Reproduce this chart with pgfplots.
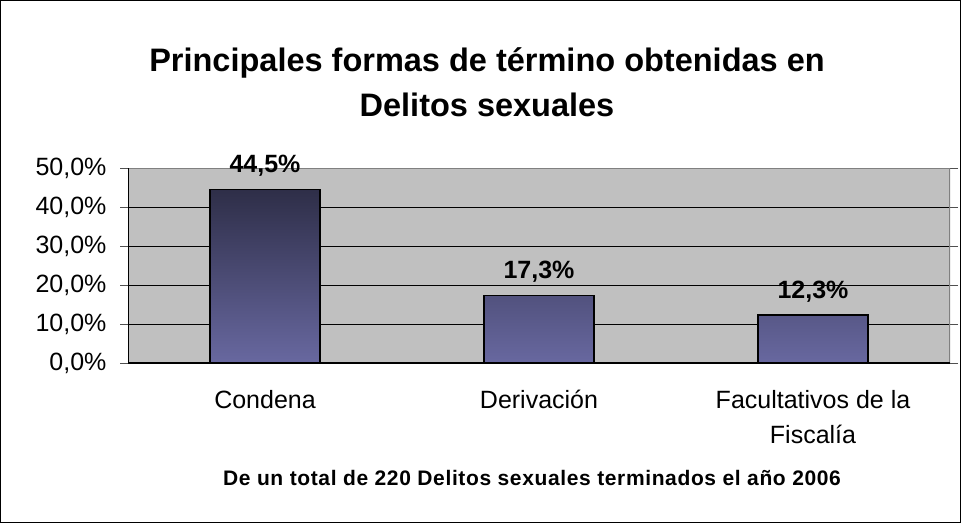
\documentclass[border=0pt]{standalone}
\usepackage{pgfplots}
\pgfplotsset{compat=1.18}
\usepackage{fontspec}
\setmainfont{Liberation Sans}
\definecolor{plotbg}{HTML}{C0C0C0}
\definecolor{bartop}{HTML}{2E2E48}
\definecolor{barbot}{HTML}{6868A0}
\definecolor{edgegray}{HTML}{808080}
\definecolor{tickgray}{HTML}{505050}
\begin{document}
\begin{tikzpicture}
\draw[line width=1.3pt, black] (0.65pt,-0.65pt) rectangle (960.35pt,-522.35pt);
\node[font=\bfseries\fontsize{32.5}{38}\selectfont] at (487pt,-63pt) {Principales formas de término obtenidas en};
\node[font=\bfseries\fontsize{32.5}{38}\selectfont] at (487pt,-105pt) {Delitos sexuales};
\node[font=\bfseries\fontsize{21}{25}\selectfont\addfontfeature{LetterSpace=3}] at (532pt,-478pt) {De un total de 220 Delitos sexuales terminados el año 2006};
\begin{axis}[
  at={(128pt,-363pt)}, anchor=south west,
  scale only axis, width=822pt, height=195pt,
  xmin=-0.5, xmax=2.5, ymin=0, ymax=50,
  axis background/.style={fill=plotbg},
  axis line style={draw=none},
  ytick={0,10,20,30,40,50},
  yticklabels={{0,0\%},{10,0\%},{20,0\%},{30,0\%},{40,0\%},{50,0\%}},
  ymajorgrids, grid style={black, line width=0.8pt},
  ytick style={tickgray, line width=1pt},
  major tick length=8pt, tick align=outside,
  yticklabel style={font=\fontsize{25}{29}\selectfont, xshift=-10pt},
  xtick={0,1,2},
  xticklabels={Condena, Derivación, {Facultativos de la\\Fiscalía}},
  xticklabel style={font=\fontsize{25}{35}\selectfont, align=center, yshift=-16pt},
  xtick style={draw=none},
  extra x ticks={-0.5,0.5,1.5,2.5}, extra x tick labels={},
  extra x tick style={grid=none, tick style={tickgray, line width=1pt}, major tick length=7pt},
  nodes near coords={\pgfmathprintnumber[fixed,fixed zerofill,precision=1,use comma,assume math mode=true]{\pgfplotspointmeta}\%},
  every node near coord/.append style={font=\bfseries\fontsize{25}{29}\selectfont, black, yshift=9pt},
]
\addplot[ybar, bar width=110pt, draw=black, line width=1.2pt, top color=bartop, bottom color=barbot]
  coordinates {(0,44.5) (1,17.3) (2,12.3)};
\draw[edgegray, line width=1.2pt] (rel axis cs:0,1) -- (rel axis cs:1,1) -- (rel axis cs:1,0);
\draw[black, line width=1.2pt] (rel axis cs:0,1) -- (rel axis cs:0,0) -- (rel axis cs:1,0);
\end{axis}
\end{tikzpicture}
\end{document}
